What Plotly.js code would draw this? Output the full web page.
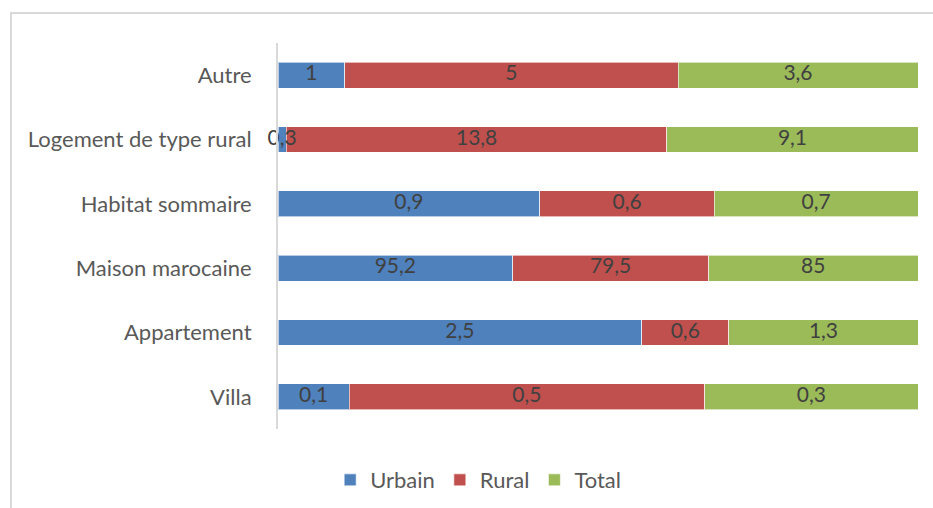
<!DOCTYPE html>
<html>
<head>
<meta charset="utf-8">
<script src="https://cdn.plot.ly/plotly-3.0.1.min.js"></script>
<style>
  html, body { margin: 0; padding: 0; background: #fff; }
  #wrap { position: relative; width: 933px; height: 508px; overflow: hidden; }
  #frame { position: absolute; left: 10px; top: 12px; width: 940px; height: 520px; border: 2px solid #d9d9d9; box-sizing: border-box; }
  #chart { position: absolute; left: 0; top: 0; width: 933px; height: 508px; }
</style>
</head>
<body>
<div id="wrap">
  <div id="frame"></div>
  <div id="chart"></div>
</div>
<script>
const categories = ["Villa", "Appartement", "Maison marocaine", "Habitat sommaire", "Logement de type rural", "Autre"];
const urbain = [0.1, 2.5, 95.2, 0.9, 0.3, 1];
const rural  = [0.5, 0.6, 79.5, 0.6, 13.8, 5];
const total  = [0.3, 1.3, 85, 0.7, 9.1, 3.6];
const seriesNames = ["Urbain", "Rural", "Total"];
const seriesColors = ["#4F81BD", "#C0504D", "#9BBB59"];

const fmt = v => String(v).replace('.', ',');
const FONT = "Lato, 'Noto Sans', sans-serif";
const series = [urbain, rural, total];

const traces = series.map((vals, i) => ({
  type: 'bar',
  orientation: 'h',
  name: seriesNames[i],
  y: categories,
  x: vals,
  marker: { color: seriesColors[i], line: { color: 'rgba(255,255,255,0.6)', width: 1 } },
  hoverinfo: 'none'
}));

// Data labels drawn on top, at the middle of each normalised segment
const sums = categories.map((_, c) => series.reduce((s, arr) => s + arr[c], 0));
const lx = [], ly = [], lt = [];
categories.forEach((cat, c) => {
  let acc = 0;
  series.forEach(arr => {
    const pct = arr[c] / sums[c] * 100;
    lx.push(acc + pct / 2);
    ly.push(cat);
    lt.push(fmt(arr[c]));
    acc += pct;
  });
});
traces.push({
  type: 'scatter', mode: 'text',
  x: lx, y: ly, text: lt,
  textposition: 'middle center',
  textfont: { family: FONT, size: 21, color: '#404040' },
  cliponaxis: false, showlegend: false, hoverinfo: 'none'
});

const layout = {
  width: 933, height: 508,
  margin: { l: 278, r: 15, t: 43, b: 79 },
  paper_bgcolor: 'rgba(0,0,0,0)',
  plot_bgcolor: 'rgba(0,0,0,0)',
  barmode: 'stack',
  barnorm: 'percent',
  bargap: 0.6,
  showlegend: true,
  font: { family: FONT, color: '#595959' },
  xaxis: { range: [0, 100], showticklabels: false, showgrid: false, zeroline: false, showline: false, fixedrange: true },
  yaxis: {
    type: 'category', showgrid: false, zeroline: false,
    showline: true, linecolor: '#d9d9d9', linewidth: 2,
    ticks: '', ticklabelstandoff: 20,
    tickfont: { family: FONT, size: 22, color: '#595959' }
  },
  legend: {
    orientation: 'h', traceorder: 'normal',
    xref: 'container', yref: 'container',
    x: 0.5125, xanchor: 'center', y: 0.055, yanchor: 'middle',
    itemwidth: 30,
    font: { family: FONT, size: 22, color: '#595959' }
  }
};

Plotly.newPlot('chart', traces, layout, { displayModeBar: false, staticPlot: true });
</script>
</body>
</html>
